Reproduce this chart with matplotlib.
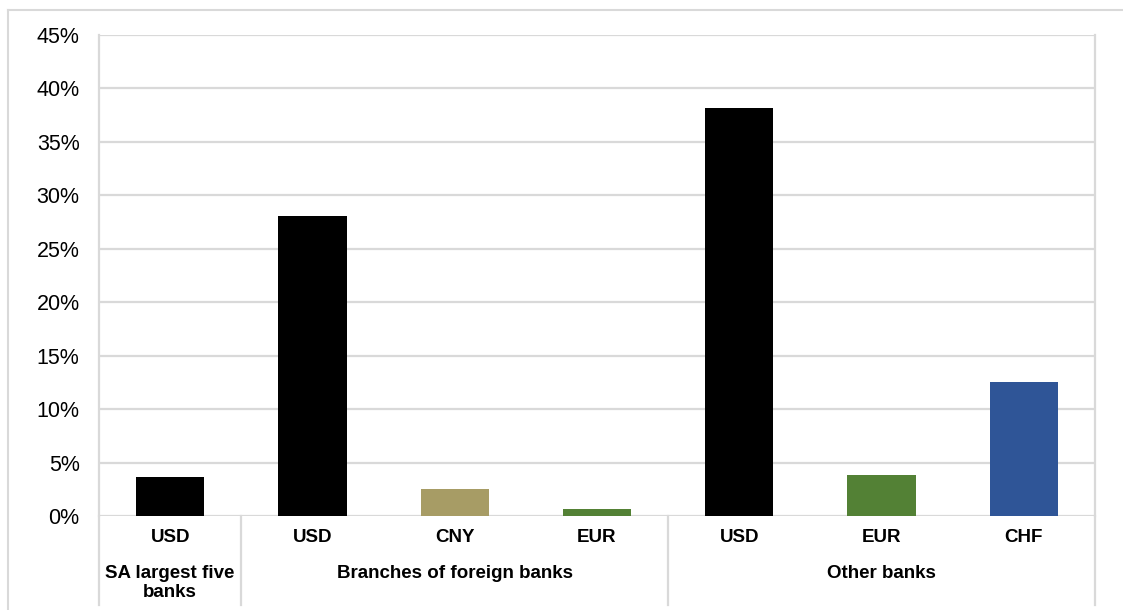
import matplotlib.pyplot as plt
from matplotlib.lines import Line2D
from matplotlib.ticker import FuncFormatter

# Share of foreign currency funding by bank group and currency
currencies = ['USD', 'USD', 'CNY', 'EUR', 'USD', 'EUR', 'CHF']
shares = [3.65, 28.05, 2.5, 0.65, 38.2, 3.85, 12.55]
bar_colors = ['#000000', '#000000', '#A79C65', '#538135', '#000000', '#538135', '#2F5597']
groups = ['SA largest five\nbanks', 'Branches of foreign banks', 'Other banks']
group_sizes = [1, 3, 3]

plt.rcParams['font.family'] = ['Liberation Sans', 'DejaVu Sans']
grid_col = '#d9d9d9'

W, H = 1123, 610
fig = plt.figure(figsize=(W / 100, H / 100), dpi=100)

left, right, top, bottom = 99, 1095, 35, 516
ax = fig.add_axes([left / W, 1 - bottom / H, (right - left) / W, (bottom - top) / H])

x = list(range(len(shares)))
ax.bar(x, shares, width=0.48, color=bar_colors, zorder=3)

ax.set_xlim(-0.5, len(shares) - 0.5)
ax.set_ylim(0, 45)
ax.set_yticks(range(0, 46, 5))
ax.yaxis.set_major_formatter(FuncFormatter(lambda v, _: f'{int(v)}%'))
ax.tick_params(axis='y', length=0, labelsize=15.5, pad=14)
ax.set_xticks([])
ax.grid(axis='y', color=grid_col, linewidth=1.6, zorder=0)
for s in ['top', 'bottom']:
    ax.spines[s].set_visible(False)
for s in ['left', 'right']:
    ax.spines[s].set_color(grid_col)
    ax.spines[s].set_linewidth(1.6)

# category and group labels below the axis
trans = ax.get_xaxis_transform()
for i, c in enumerate(currencies):
    ax.text(i, -22 / (bottom - top), c, transform=trans, ha='center', va='center',
            fontsize=13.5, fontweight='bold')

sep_bottom = -(605 - bottom) / (bottom - top)
start = 0
seps = [-0.5]
for g, n in zip(groups, group_sizes):
    mid = start + (n - 1) / 2
    ax.text(mid, -(67 if '\n' in g else 57) / (bottom - top), g, transform=trans,
            ha='center', va='center', fontsize=13.5, fontweight='bold', linespacing=1.2)
    start += n
    seps.append(start - 0.5)
for s in seps:
    ax.add_line(Line2D([s, s], [0, sep_bottom], transform=trans, color=grid_col,
                       linewidth=1.6, clip_on=False))

# outer chart frame
fig.add_artist(Line2D([8 / W, 8 / W], [0, 1 - 10 / H], transform=fig.transFigure,
                      color=grid_col, linewidth=1.5))
fig.add_artist(Line2D([8 / W, 1], [1 - 10 / H, 1 - 10 / H], transform=fig.transFigure,
                      color=grid_col, linewidth=1.5))

fig.savefig('out.png', dpi=100)
